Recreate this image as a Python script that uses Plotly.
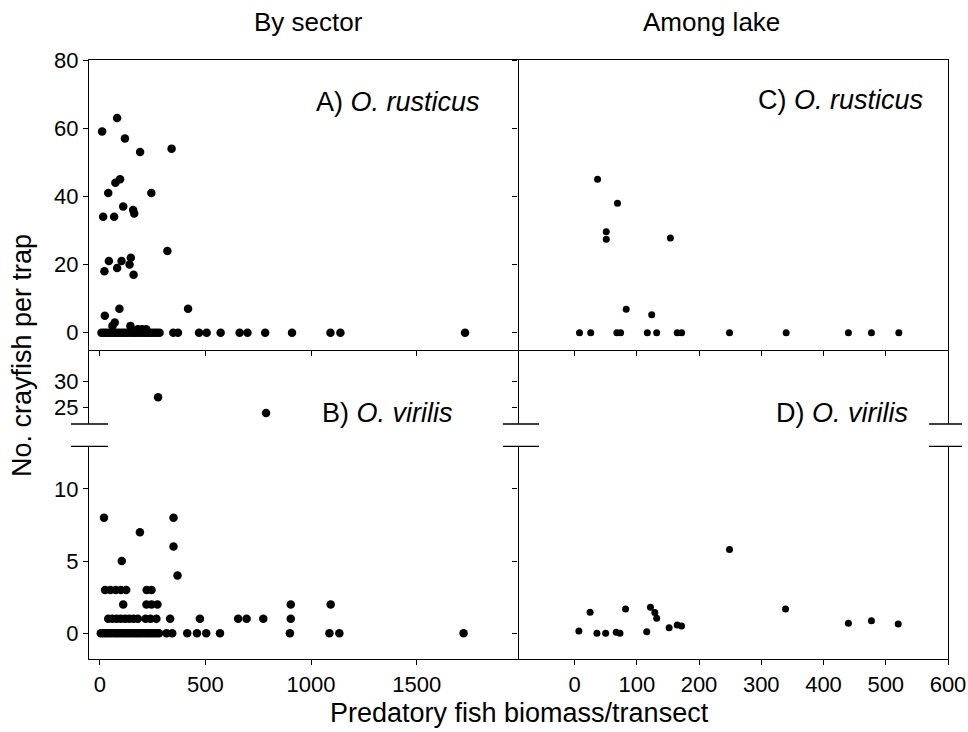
import plotly.graph_objects as go

# ---------------- data ----------------
# Panel A: By sector, O. rusticus
a_x = [11, 82, 119, 191, 340, 96, 74, 40, 244, 111, 158, 163, 16, 68, 320, 43, 103, 147, 141, 82, 22, 160,
       418, 93, 24, 71, 60, 145, 180, 200, 220,
       8, 20, 32, 45, 58, 70, 82, 95, 108, 120, 132, 145, 158, 170, 182, 195, 208, 220, 232, 245, 258, 270, 283,
       348, 370, 470, 506, 572, 662, 699, 783, 910, 1092, 1139, 1729]
a_y = [59, 63, 57, 53, 54, 45, 44, 41, 41, 37, 36, 35, 34, 34, 24, 21, 21, 22, 20, 19, 18, 17,
       7, 7, 5, 3, 2, 2, 1, 1, 1,
       0, 0, 0, 0, 0, 0, 0, 0, 0, 0, 0, 0, 0, 0, 0, 0, 0, 0, 0, 0, 0, 0, 0,
       0, 0, 0, 0, 0, 0, 0, 0, 0, 0, 0, 0]

# Panel B: By sector, O. virilis
b_x = [276, 787,
       20, 349, 190, 349, 104, 368,
       25, 50, 75, 100, 125, 222, 245,
       111, 221, 245, 273, 904, 1093,
       40, 60, 80, 100, 120, 140, 160, 180, 217, 240, 268, 333, 474, 655, 695, 774, 904,
       5, 18, 30, 42, 55, 68, 80, 92, 105, 118, 130, 142, 155, 168, 180, 192, 205, 218, 230, 242, 255, 268, 280,
       316, 343, 414, 460, 504, 569, 900, 1087, 1134, 1722]
b_y = [27, 24,
       8, 8, 7, 6, 5, 4,
       3, 3, 3, 3, 3, 3, 3,
       2, 2, 2, 2, 2, 2,
       1, 1, 1, 1, 1, 1, 1, 1, 1, 1, 1, 1, 1, 1, 1, 1, 1,
       0, 0, 0, 0, 0, 0, 0, 0, 0, 0, 0, 0, 0, 0, 0, 0, 0, 0, 0, 0, 0, 0, 0,
       0, 0, 0, 0, 0, 0, 0, 0, 0, 0]

# Panel C: Among lake, O. rusticus
c_x = [37, 69, 51, 51, 154, 83, 124, 8, 26, 68, 74, 117, 132, 165, 172, 249, 340, 440, 477, 521]
c_y = [45, 38, 29.6, 27.4, 27.8, 6.9, 5.3, 0, 0, 0, 0, 0, 0, 0, 0, 0, 0, 0, 0, 0]

# Panel D: Among lake, O. virilis
d_x = [7, 25, 36, 50, 67, 73, 82, 116, 122, 129, 132, 152, 165, 172, 249, 339, 440, 477, 520]
d_y = [0.15, 1.45, 0.0, 0.0, 0.07, 0.0, 1.68, 0.1, 1.8, 1.43, 1.04, 0.39, 0.57, 0.5, 5.8, 1.68, 0.69, 0.87, 0.64]

left_ticks = [0, 500, 1000, 1500]
right_ticks = [0, 100, 200, 300, 400, 500, 600]
top_ticks = [0, 20, 40, 60, 80]
upper_ticks = [25, 30]
lower_ticks = [0, 5, 10]

# ---------------- layout constants ----------------
FONT = "Liberation Sans, Arial, sans-serif"
TOP_DOM = [0.5159, 1.0]
UP_DOM = [0.3923, 0.5159]
LOW_DOM = [0.0, 0.3548]

fig = go.Figure()
mk = dict(color="black", size=8.5)
mk2 = dict(color="black", size=7)
fig.add_trace(go.Scatter(x=a_x, y=a_y, mode="markers", marker=mk, xaxis="x3", yaxis="y"))
fig.add_trace(go.Scatter(x=c_x, y=c_y, mode="markers", marker=mk2, xaxis="x4", yaxis="y2"))
fig.add_trace(go.Scatter(x=b_x, y=b_y, mode="markers", marker=mk, xaxis="x", yaxis="y3"))
fig.add_trace(go.Scatter(x=b_x, y=b_y, mode="markers", marker=mk, xaxis="x", yaxis="y4"))
fig.add_trace(go.Scatter(x=[None], y=[None], mode="markers", marker=mk2, xaxis="x2", yaxis="y5"))
fig.add_trace(go.Scatter(x=d_x, y=d_y, mode="markers", marker=mk2, xaxis="x2", yaxis="y6"))

common = dict(showgrid=False, zeroline=False, showline=True, linecolor="black", linewidth=1.3,
              ticklen=5, tickwidth=1.2, tickcolor="black", automargin=False,
              tickfont=dict(family=FONT, size=22, color="black"))

LX = [-51, 1982]
RX = [-90, 600]
fig.update_layout(
    xaxis=dict(domain=[0, 0.5], range=LX, anchor="y4", tickvals=left_ticks, ticks="outside", **common),
    xaxis2=dict(domain=[0.5, 1], range=RX, anchor="y6", tickvals=right_ticks, ticks="outside", **common),
    xaxis3=dict(domain=[0, 0.5], range=LX, anchor="y", tickvals=left_ticks, showticklabels=False,
                mirror=True, ticks="outside", **common),
    xaxis4=dict(domain=[0.5, 1], range=RX, anchor="y2", tickvals=right_ticks, showticklabels=False,
                mirror=True, ticks="outside", **common),
    yaxis=dict(domain=TOP_DOM, range=[-5.07, 80], anchor="x3", tickvals=top_ticks, ticks="outside", **common),
    yaxis2=dict(domain=TOP_DOM, range=[-5.07, 80], anchor="x4", tickvals=top_ticks, mirror=True,
                showticklabels=False, ticks="outside", **common),
    yaxis3=dict(domain=UP_DOM, range=[21.87, 36.1], anchor="x", tickvals=upper_ticks, ticks="outside", **common),
    yaxis4=dict(domain=LOW_DOM, range=[-1.78, 12.93], anchor="x", tickvals=lower_ticks, ticks="outside", **common),
    yaxis5=dict(domain=UP_DOM, range=[21.87, 36.1], anchor="x2", tickvals=upper_ticks, mirror=True,
                showticklabels=False, ticks="outside", **common),
    yaxis6=dict(domain=LOW_DOM, range=[-1.78, 12.93], anchor="x2", tickvals=lower_ticks, mirror=True,
                showticklabels=False, ticks="outside", **common),
    width=968, height=732,
    margin=dict(l=89, r=20, t=60, b=73),
    plot_bgcolor="white", paper_bgcolor="white",
    showlegend=False,
    font=dict(family=FONT, color="black"),
)

# break marks on the y axes
for (x0, x1) in [(-0.021, 0.0221), (0.4819, 0.5239), (0.9779, 1.0163)]:
    for yy in [UP_DOM[0], LOW_DOM[1]]:
        fig.add_shape(type="line", xref="paper", yref="paper", x0=x0, x1=x1, y0=yy, y1=yy,
                      line=dict(color="black", width=1.3))

ann = [
    dict(text="By sector", x=0.255, y=1.063, xanchor="center", yanchor="middle", size=26),
    dict(text="Among lake", x=0.725, y=1.063, xanchor="center", yanchor="middle", size=26),
    dict(text="A) <i>O. rusticus</i>", x=0.4575, y=0.93, xanchor="right", yanchor="middle", size=27),
    dict(text="C) <i>O. rusticus</i>", x=0.973, y=0.933, xanchor="right", yanchor="middle", size=27),
    dict(text="B) <i>O. virilis</i>", x=0.426, y=0.411, xanchor="right", yanchor="middle", size=27),
    dict(text="D) <i>O. virilis</i>", x=0.956, y=0.411, xanchor="right", yanchor="middle", size=27),
    dict(text="Predatory fish biomass/transect", x=0.501, y=-0.09, xanchor="center", yanchor="middle", size=27),
]
for a in ann:
    fig.add_annotation(text=a["text"], x=a["x"], y=a["y"], xref="paper", yref="paper",
                       xanchor=a["xanchor"], yanchor=a["yanchor"], showarrow=False,
                       font=dict(family=FONT, size=a["size"], color="black"))
fig.add_annotation(text="No. crayfish per trap", x=-0.078, y=0.5075, xref="paper", yref="paper",
                   textangle=-90, showarrow=False, xanchor="center", yanchor="middle",
                   font=dict(family=FONT, size=27, color="black"))

fig.write_html("out.html", config={"displayModeBar": False},
               post_script="document.body.style.margin='0';")
